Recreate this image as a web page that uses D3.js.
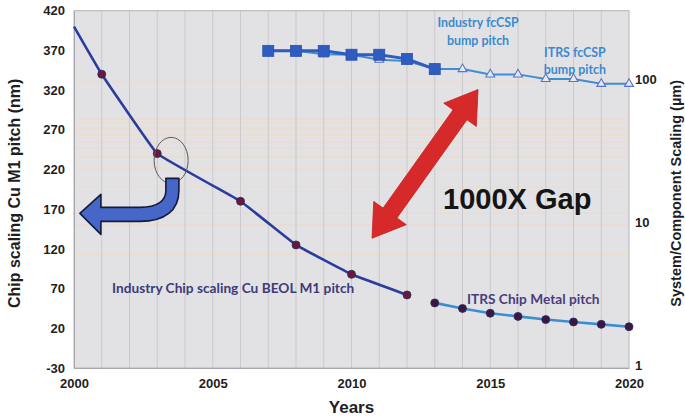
<!DOCTYPE html>
<html>
<head>
<meta charset="utf-8">
<script src="https://cdnjs.cloudflare.com/ajax/libs/d3/7.8.5/d3.min.js"></script>
<style>
  html, body { margin: 0; padding: 0; background: #ffffff; }
  svg { display: block; }
</style>
</head>
<body>
<svg id="chart" width="685" height="418"></svg>
<script>
// ---- data ----
const cuYears  = [2000, 2001, 2003, 2006, 2008, 2010, 2012];
const cuPitch  = [400, 340, 240, 180, 125, 88, 62];          // nm, left axis
const cuMarked = [false, true, true, true, true, true, true];

const itrsMetalYears = [2013, 2014, 2015, 2016, 2017, 2018, 2019, 2020];
const itrsMetalPitch = [52, 45, 39, 35, 31, 28, 25, 22];     // nm, left axis

const bumpYears = [2007, 2008, 2009, 2010, 2011, 2012, 2013];
const bumpPitch = [165, 165, 165, 155, 155, 145, 123];        // µm, right axis

const itrsBumpYears = [2007, 2008, 2009, 2010, 2011, 2012, 2013, 2014, 2015, 2016, 2017, 2018, 2019, 2020];
const itrsBumpPitch = [165, 165, 156, 155, 143, 140, 123, 123, 113, 113, 105, 105, 97, 97];

const leftTicks  = [-30, 20, 70, 120, 170, 220, 270, 320, 370, 420];
const xTicks     = [2000, 2005, 2010, 2015, 2020];
const rightTicks = [1, 10, 100];
const minorGrid  = [6.2, 10, 12.1, 18.4, 25, 30, 34.5, 38, 43, 47, 52, 55, 100];

// ---- layout ----
const svg = d3.select("#chart");
const L = 74, R = 629, T = 10.7, B = 368;

const x  = d3.scaleLinear().domain([2000, 2020]).range([L, R]);
const yL = d3.scaleLinear().domain([-30, 420]).range([B, T]);
const yR = d3.scaleLog().domain([1, 315]).range([B, T]);

// plot background
svg.append("rect").attr("x", L).attr("y", T).attr("width", R - L).attr("height", B - T)
  .attr("fill", "#e2e2e5");

// horizontal minor grid (faint peach)
svg.append("g").selectAll("line").data(minorGrid).join("line")
  .attr("x1", L).attr("x2", R)
  .attr("y1", d => yR(d)).attr("y2", d => yR(d))
  .attr("stroke", "#efd9c6").attr("stroke-width", 1);

// vertical yearly grid
svg.append("g").selectAll("line").data(d3.range(2001, 2020)).join("line")
  .attr("x1", d => x(d)).attr("x2", d => x(d))
  .attr("y1", T).attr("y2", B)
  .attr("stroke", "#c9c9ce").attr("stroke-width", 1);

// frame
svg.append("rect").attr("x", L).attr("y", T).attr("width", R - L).attr("height", B - T)
  .attr("fill", "none").attr("stroke", "#b4b4b8").attr("stroke-width", 1);

// ---- axes ----
const axisFont = "'Liberation Sans', Arial, sans-serif";
const plain = d => String(d);

const gLeft = svg.append("g").attr("transform", `translate(${L},0)`)
  .call(d3.axisLeft(yL).tickValues(leftTicks).tickSize(0).tickPadding(9).tickFormat(plain));
gLeft.select(".domain").attr("stroke", "#a8a8ac");

const gBottom = svg.append("g").attr("transform", `translate(0,${B})`)
  .call(d3.axisBottom(x).tickValues(xTicks).tickSize(0).tickPadding(11).tickFormat(plain));
gBottom.select(".domain").attr("stroke", "#a8a8ac");

const gRight = svg.append("g").attr("transform", `translate(${R},0)`)
  .call(d3.axisRight(yR).tickValues(rightTicks).tickSize(0).tickPadding(6).tickFormat(plain));
gRight.select(".domain").attr("stroke", "none");
gRight.selectAll(".tick text").attr("dy", "0.1em");

svg.selectAll(".tick text")
  .attr("font-family", axisFont).attr("font-weight", "bold")
  .attr("font-size", 13).attr("fill", "#1e1e1e");

// axis titles
svg.append("text")
  .attr("transform", `translate(20,${(T + B) / 2 + 4}) rotate(-90)`)
  .attr("text-anchor", "middle")
  .attr("font-family", axisFont).attr("font-weight", "bold").attr("font-size", 16)
  .attr("fill", "#1e1e1e")
  .text("Chip scaling Cu M1 pitch (nm)");

svg.append("text")
  .attr("transform", `translate(681,${(T + B) / 2 + 4}) rotate(-90)`)
  .attr("text-anchor", "middle")
  .attr("font-family", axisFont).attr("font-weight", "bold").attr("font-size", 14.5)
  .attr("fill", "#1e1e1e")
  .text("System/Component Scaling (µm)");

svg.append("text")
  .attr("x", x(2010)).attr("y", 413)
  .attr("text-anchor", "middle")
  .attr("font-family", axisFont).attr("font-weight", "bold").attr("font-size", 17)
  .attr("fill", "#1e1e1e")
  .text("Years");

// ---- series ----
const cuData = cuYears.map((yr, i) => ({ yr, v: cuPitch[i], m: cuMarked[i] }));
const itrsMetal = itrsMetalYears.map((yr, i) => ({ yr, v: itrsMetalPitch[i] }));
const bump = bumpYears.map((yr, i) => ({ yr, v: bumpPitch[i] }));
const itrsBump = itrsBumpYears.map((yr, i) => ({ yr, v: itrsBumpPitch[i] }));

// Industry Cu BEOL M1 pitch
svg.append("path").datum(cuData)
  .attr("d", d3.line().x(d => x(d.yr)).y(d => yL(d.v)).curve(d3.curveCardinal.tension(0.8)))
  .attr("fill", "none").attr("stroke", "#2b3c9c").attr("stroke-width", 2.6);

svg.append("g").selectAll("circle").data(cuData.filter(d => d.m)).join("circle")
  .attr("cx", d => x(d.yr)).attr("cy", d => yL(d.v)).attr("r", 4)
  .attr("fill", "#6a1836").attr("stroke", "#2b2a6a").attr("stroke-width", 0.8);

// ITRS chip metal pitch
svg.append("path").datum(itrsMetal)
  .attr("d", d3.line().x(d => x(d.yr)).y(d => yL(d.v)))
  .attr("fill", "none").attr("stroke", "#3a8fd2").attr("stroke-width", 2.6);

svg.append("g").selectAll("circle").data(itrsMetal).join("circle")
  .attr("cx", d => x(d.yr)).attr("cy", d => yL(d.v)).attr("r", 4)
  .attr("fill", "#3b1840").attr("stroke", "#2b2a6a").attr("stroke-width", 0.8);

// ITRS fcCSP bump pitch (open triangles)
svg.append("path").datum(itrsBump)
  .attr("d", d3.line().x(d => x(d.yr)).y(d => yR(d.v)))
  .attr("fill", "none").attr("stroke", "#3b8fd2").attr("stroke-width", 2);

svg.append("g").selectAll("path").data(itrsBump).join("path")
  .attr("transform", d => `translate(${x(d.yr)},${yR(d.v)})`)
  .attr("d", d3.symbol(d3.symbolTriangle, 34))
  .attr("fill", "#e6e8f2").attr("stroke", "#5a72c8").attr("stroke-width", 1.1);

// Industry fcCSP bump pitch (filled squares)
svg.append("path").datum(bump)
  .attr("d", d3.line().x(d => x(d.yr)).y(d => yR(d.v)))
  .attr("fill", "none").attr("stroke", "#2f5cc0").attr("stroke-width", 3);

svg.append("g").selectAll("rect").data(bump).join("rect")
  .attr("x", d => x(d.yr) - 5.5).attr("y", d => yR(d.v) - 5.5)
  .attr("width", 11).attr("height", 11)
  .attr("fill", "#2f5cc0").attr("stroke", "#2a50ad").attr("stroke-width", 0.8);

// ---- annotations ----
const labelFont = "Lato, 'Open Sans', sans-serif";

svg.append("text")
  .attr("x", x(2001.37)).attr("y", yL(65))
  .attr("font-family", labelFont).attr("font-weight", "bold").attr("font-size", 13.7)
  .attr("fill", "#3d3b78")
  .text("Industry Chip scaling Cu BEOL M1 pitch");

svg.append("text")
  .attr("x", x(2014.16)).attr("y", yL(51))
  .attr("font-family", labelFont).attr("font-weight", "bold").attr("font-size", 13.7)
  .attr("fill", "#4a3d80")
  .text("ITRS Chip Metal pitch");

const blueLbl = [
  { t: "Industry fcCSP", yr: 2014.56, v: 399 },
  { t: "bump pitch",     yr: 2014.56, v: 377 },
  { t: "ITRS fcCSP",     yr: 2018.05, v: 362 },
  { t: "bump pitch",     yr: 2018.05, v: 340 }
];
svg.append("g").selectAll("text").data(blueLbl).join("text")
  .attr("x", d => x(d.yr)).attr("y", d => yL(d.v))
  .attr("text-anchor", "middle")
  .attr("font-family", labelFont).attr("font-weight", "bold").attr("font-size", 12.4)
  .attr("fill", "#3a8ad0")
  .text(d => d.t);

svg.append("text")
  .attr("x", x(2013.3)).attr("y", yL(170))
  .attr("font-family", axisFont).attr("font-weight", "bold").attr("font-size", 29)
  .attr("fill", "#151515")
  .text("1000X Gap");

// ellipse around the 2003 inflection
svg.append("ellipse")
  .attr("cx", x(2003.5)).attr("cy", yL(231.5))
  .attr("rx", 17).attr("ry", 23)
  .attr("fill", "none").attr("stroke", "#5a5a5a").attr("stroke-width", 1);

// curved blue arrow pointing to the left axis
{
  const ox = x(2003.78), oy = yL(208.8);
  const p = [
    `M${ox - 13},${oy}`, `L${ox},${oy}`, `L${ox},${oy + 12}`,
    `C${ox},${oy + 32} ${ox - 14},${oy + 43} ${ox - 39},${oy + 43}`,
    `L${ox - 78},${oy + 43}`, `L${ox - 78},${oy + 56}`,
    `L${ox - 99},${oy + 35}`,
    `L${ox - 78},${oy + 16}`, `L${ox - 78},${oy + 29}`,
    `L${ox - 39},${oy + 29}`,
    `C${ox - 21},${oy + 29} ${ox - 13},${oy + 22} ${ox - 13},${oy + 12}`, "Z"
  ].join(" ");
  svg.append("path").attr("d", p)
    .attr("fill", "#4767c8").attr("stroke", "#141a3a").attr("stroke-width", 1.6)
    .attr("stroke-linejoin", "round");
}

// red double-headed arrow marking the gap
{
  const x1 = x(2010.74), y1 = yL(133.4), x2 = x(2014.56), y2 = yL(320.7);
  const dx = x2 - x1, dy = y2 - y1, len = Math.hypot(dx, dy);
  const ux = dx / len, uy = dy / len, nx = -uy, ny = ux;
  const hl = 31, hw = 20, sw = 8.5;
  const pt = (t, w) => [x1 + ux * t + nx * w, y1 + uy * t + ny * w];
  const pts = [
    pt(0, 0), pt(hl, hw), pt(hl, sw), pt(len - hl, sw), pt(len - hl, hw),
    pt(len, 0), pt(len - hl, -hw), pt(len - hl, -sw), pt(hl, -sw), pt(hl, -hw)
  ];
  svg.append("polygon").attr("points", pts.map(p => p.join(",")).join(" "))
    .attr("fill", "#d62a2a").attr("stroke", "#c42020").attr("stroke-width", 0.8);
}
</script>
</body>
</html>
